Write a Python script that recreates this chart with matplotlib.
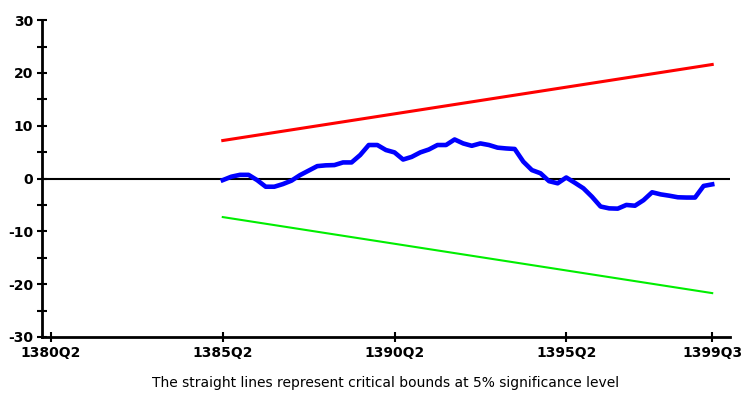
import matplotlib.pyplot as plt
import numpy as np

plt.rcParams['axes.unicode_minus'] = False

# quarter labels, index 0 = 1380Q2
tick_pos = [0, 20, 40, 60, 77]
tick_labels = ['1380Q2', '1385Q2', '1390Q2', '1395Q2', '1399Q3']

# CUSUM statistic, 1385Q2 .. 1399Q3
cusum_start = 20
cusum = [-0.3, 0.35, 0.7, 0.7, -0.3, -1.55, -1.55, -1.05, -0.4, 0.65,
         1.5, 2.35, 2.5, 2.55, 3.05, 3.05, 4.45, 6.35, 6.35, 5.4,
         4.95, 3.6, 4.1, 4.95, 5.5, 6.35, 6.35, 7.4, 6.65, 6.2,
         6.65, 6.35, 5.85, 5.7, 5.6, 3.2, 1.6, 1.0, -0.5, -0.9,
         0.2, -0.8, -1.85, -3.45, -5.3, -5.65, -5.7, -5.0, -5.15, -4.1,
         -2.6, -3.0, -3.25, -3.55, -3.6, -3.6, -1.4, -1.1]

# 5% critical bounds (straight lines, end points)
bound_x = [20, 77]
upper = [7.2, 21.6]
lower = [-7.3, -21.7]

fig = plt.figure(figsize=(7.44, 3.95), dpi=100)
ax = fig.add_axes([0.0565, 0.147, 0.925, 0.802])

x = np.arange(cusum_start, cusum_start + len(cusum))
ax.axhline(0, color='black', linewidth=1.5, zorder=1)
ax.plot(bound_x, upper, color='#ff0000', linewidth=2.2, zorder=2)
ax.plot(bound_x, lower, color='#00ee00', linewidth=1.5, zorder=2)
ax.plot(x, cusum, color='#0000ff', linewidth=3.3, zorder=3)

ax.set_xlim(-1.05, 79.1)
ax.set_ylim(-30, 30)
ax.set_xticks(tick_pos)
ax.set_xticklabels(tick_labels)
ax.set_yticks(np.arange(-30, 31, 10))
ax.set_yticks(np.arange(-25, 30, 10), minor=True)

for s in ['top', 'right']:
    ax.spines[s].set_visible(False)
for s in ['left', 'bottom']:
    ax.spines[s].set_linewidth(2)

ax.tick_params(direction='inout', length=7, width=1.5, labelsize=10, pad=3)
ax.tick_params(which='minor', direction='inout', length=7, width=1.5)
for lab in ax.get_xticklabels() + ax.get_yticklabels():
    lab.set_fontweight('bold')

fig.text(0.518, 0.03, 'The straight lines represent critical bounds at 5% significance level',
         ha='center', va='center', fontsize=10)

fig.savefig('out.png')
